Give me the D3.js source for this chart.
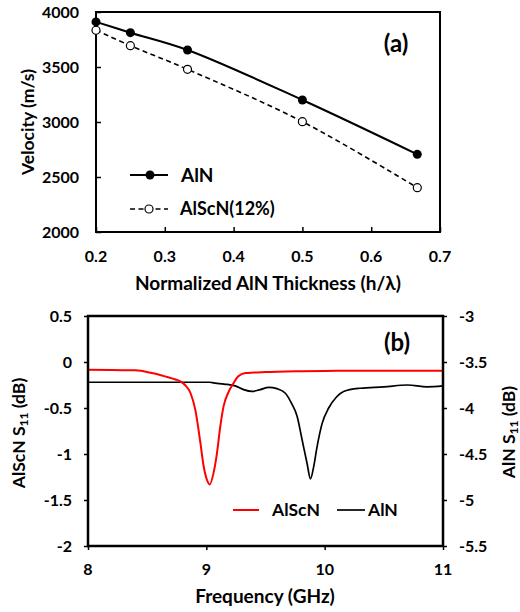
<!DOCTYPE html>
<html>
<head>
<meta charset="utf-8">
<script src="https://cdn.jsdelivr.net/npm/d3@7"></script>
<style>
  body { margin: 0; background: #fff; }
  text { font-family: Lato, "Open Sans", sans-serif; font-weight: 700; fill: #000; }
</style>
</head>
<body>
<div id="chart"></div>
<script>
// ---- panel (a) data ----
var thickness = [0.2, 0.25, 0.333, 0.5, 0.667];
var velAlN = [3910, 3812, 3655, 3200, 2706];
var velAlScN = [3834, 3694, 3479, 3003, 2403];
var xTicksA = [0.2, 0.3, 0.4, 0.5, 0.6, 0.7];
var yTicksA = [2000, 2500, 3000, 3500, 4000];

// ---- panel (b) data ----
var freqAlScN = [8.0, 8.2, 8.4, 8.54, 8.65, 8.74, 8.78, 8.82, 8.866, 8.907, 8.95, 8.977, 9.005, 9.028,
  9.062, 9.09, 9.118, 9.146, 9.19, 9.23, 9.27, 9.33, 9.4, 9.5, 9.6, 9.8, 10.0, 10.3, 10.6, 11.0];
var s11AlScN = [-0.084, -0.088, -0.09, -0.12, -0.156, -0.19, -0.21, -0.25, -0.337, -0.52, -0.88, -1.13, -1.28, -1.332,
  -1.2, -0.99, -0.70, -0.48, -0.32, -0.23, -0.156, -0.12, -0.115, -0.11, -0.105, -0.1, -0.097, -0.095, -0.095, -0.095];
var freqAlN = [8.0, 8.5, 9.03, 9.05, 9.15, 9.245, 9.315, 9.386, 9.456, 9.527, 9.597, 9.668, 9.72, 9.767,
  9.81, 9.851, 9.88, 9.907, 9.936, 9.978, 10.034, 10.10, 10.16, 10.30, 10.50, 10.70, 10.865, 11.0];
var s11AlN = [-3.72, -3.72, -3.72, -3.725, -3.74, -3.76, -3.80, -3.82, -3.80, -3.775, -3.79, -3.84, -3.95, -4.09,
  -4.35, -4.60, -4.77, -4.64, -4.42, -4.17, -4.0, -3.88, -3.82, -3.785, -3.77, -3.75, -3.77, -3.76];
var xTicksB = [8, 9, 10, 11];
var yTicksBLeft = [-2, -1.5, -1, -0.5, 0, 0.5];
var yTicksBRight = [-5.5, -5, -4.5, -4, -3.5, -3];

var W = 520, H = 612;
var svg = d3.select("#chart").append("svg")
  .attr("width", W).attr("height", H);

// ================= panel (a) =================
var ax = d3.scaleLinear().domain([0.2, 0.7]).range([96, 440]);
var ay = d3.scaleLinear().domain([2000, 4000]).range([232, 12]);

var gA = svg.append("g");

// ticks (inside)
gA.append("g")
  .attr("transform", "translate(96,0)")
  .call(d3.axisRight(ay).tickValues(yTicksA).tickSize(5).tickFormat(""))
  .call(function (g) { g.select(".domain").remove(); g.selectAll("line").attr("stroke-width", 1.5); });
gA.append("g")
  .attr("transform", "translate(0,232)")
  .call(d3.axisTop(ax).tickValues(xTicksA).tickSize(5).tickFormat(""))
  .call(function (g) { g.select(".domain").remove(); g.selectAll("line").attr("stroke-width", 1.5); });

// tick labels
gA.selectAll(".ylab").data(yTicksA).enter().append("text")
  .attr("x", 79).attr("y", function (d) { return ay(d); })
  .attr("dy", "0.36em").attr("text-anchor", "end")
  .style("font-size", "16px").text(function (d) { return d; });
gA.selectAll(".xlab").data(xTicksA).enter().append("text")
  .attr("x", function (d) { return ax(d); }).attr("y", 262)
  .attr("text-anchor", "middle")
  .style("font-size", "16px").text(function (d) { return d.toFixed(1); });

// frame
gA.append("rect").attr("x", 96).attr("y", 12).attr("width", 344).attr("height", 220)
  .attr("fill", "none").attr("stroke", "#000").attr("stroke-width", 2);

var dataAlN = thickness.map(function (t, i) { return [t, velAlN[i]]; });
var dataAlScN = thickness.map(function (t, i) { return [t, velAlScN[i]]; });
var lineA = d3.line()
  .x(function (d) { return ax(d[0]); })
  .y(function (d) { return ay(d[1]); })
  .curve(d3.curveCatmullRom.alpha(0.5));

gA.append("path").attr("d", lineA(dataAlScN))
  .attr("fill", "none").attr("stroke", "#000").attr("stroke-width", 1.6)
  .attr("stroke-dasharray", "5,3.5");
gA.append("path").attr("d", lineA(dataAlN))
  .attr("fill", "none").attr("stroke", "#000").attr("stroke-width", 2);

gA.selectAll(".ptB").data(dataAlScN).enter().append("circle")
  .attr("cx", function (d) { return ax(d[0]); }).attr("cy", function (d) { return ay(d[1]); })
  .attr("r", 4).attr("fill", "#fff").attr("stroke", "#000").attr("stroke-width", 1.2);
gA.selectAll(".ptA").data(dataAlN).enter().append("circle")
  .attr("cx", function (d) { return ax(d[0]); }).attr("cy", function (d) { return ay(d[1]); })
  .attr("r", 4.5).attr("fill", "#000");

// legend (a)
gA.append("line").attr("x1", 130).attr("x2", 168).attr("y1", 175).attr("y2", 175)
  .attr("stroke", "#000").attr("stroke-width", 2);
gA.append("circle").attr("cx", 150).attr("cy", 175).attr("r", 4.5).attr("fill", "#000");
gA.append("text").attr("x", 181).attr("y", 175).attr("dy", "0.36em")
  .style("font-size", "19px").text("AlN");
gA.append("line").attr("x1", 130).attr("x2", 168).attr("y1", 209).attr("y2", 209)
  .attr("stroke", "#000").attr("stroke-width", 1.6).attr("stroke-dasharray", "5,3.5");
gA.append("circle").attr("cx", 149).attr("cy", 209).attr("r", 4)
  .attr("fill", "#fff").attr("stroke", "#000").attr("stroke-width", 1.2);
gA.append("text").attr("x", 180).attr("y", 209).attr("dy", "0.36em")
  .style("font-size", "18px").text("AlScN(12%)");

gA.append("text").attr("x", 396).attr("y", 43).attr("dy", "0.36em").attr("text-anchor", "middle")
  .style("font-size", "24px").text("(a)");

// axis titles
gA.append("text").attr("x", 268).attr("y", 290).attr("text-anchor", "middle")
  .style("font-size", "19px").text("Normalized AlN Thickness (h/λ)");
gA.append("text").attr("transform", "translate(28,122) rotate(-90)")
  .attr("dy", "0.36em").attr("text-anchor", "middle")
  .style("font-size", "17.5px").text("Velocity (m/s)");

// ================= panel (b) =================
var bx = d3.scaleLinear().domain([8, 11]).range([88, 443]);
var byL = d3.scaleLinear().domain([-2, 0.5]).range([546, 316]);
var byR = d3.scaleLinear().domain([-5.5, -3]).range([546, 316]);

var gB = svg.append("g");

gB.append("g").attr("transform", "translate(88,0)")
  .call(d3.axisLeft(byL).tickValues(yTicksBLeft).tickSize(4).tickFormat(""))
  .call(function (g) { g.select(".domain").remove(); g.selectAll("line").attr("stroke-width", 1.5); });
gB.append("g").attr("transform", "translate(443,0)")
  .call(d3.axisRight(byR).tickValues(yTicksBRight).tickSize(4).tickFormat(""))
  .call(function (g) { g.select(".domain").remove(); g.selectAll("line").attr("stroke-width", 1.5); });
gB.append("g").attr("transform", "translate(0,546)")
  .call(d3.axisBottom(bx).tickValues(xTicksB).tickSize(4).tickFormat(""))
  .call(function (g) { g.select(".domain").remove(); g.selectAll("line").attr("stroke-width", 1.5); });

gB.selectAll(".ylL").data(yTicksBLeft).enter().append("text")
  .attr("x", 72).attr("y", function (d) { return byL(d); })
  .attr("dy", "0.36em").attr("text-anchor", "end")
  .style("font-size", "16px").text(function (d) { return d; });
gB.selectAll(".ylR").data(yTicksBRight).enter().append("text")
  .attr("x", 459).attr("y", function (d) { return byR(d); })
  .attr("dy", "0.36em").attr("text-anchor", "start")
  .style("font-size", "16px").text(function (d) { return d; });
gB.selectAll(".xl").data(xTicksB).enter().append("text")
  .attr("x", function (d) { return bx(d); }).attr("y", 575)
  .attr("text-anchor", "middle")
  .style("font-size", "16px").text(function (d) { return d; });

var lineL = d3.line()
  .x(function (d) { return bx(d[0]); })
  .y(function (d) { return byL(d[1]); })
  .curve(d3.curveMonotoneX);
var lineR = d3.line()
  .x(function (d) { return bx(d[0]); })
  .y(function (d) { return byR(d[1]); })
  .curve(d3.curveMonotoneX);

gB.append("path").attr("d", lineR(freqAlN.map(function (f, i) { return [f, s11AlN[i]]; })))
  .attr("fill", "none").attr("stroke", "#000").attr("stroke-width", 1.7);
gB.append("path").attr("d", lineL(freqAlScN.map(function (f, i) { return [f, s11AlScN[i]]; })))
  .attr("fill", "none").attr("stroke", "#ff0000").attr("stroke-width", 2);

gB.append("rect").attr("x", 88).attr("y", 316).attr("width", 355).attr("height", 230)
  .attr("fill", "none").attr("stroke", "#000").attr("stroke-width", 2.5);

// legend (b)
gB.append("line").attr("x1", 233).attr("x2", 259).attr("y1", 510).attr("y2", 510)
  .attr("stroke", "#ff0000").attr("stroke-width", 2);
gB.append("text").attr("x", 272).attr("y", 510).attr("dy", "0.36em")
  .style("font-size", "17.5px").text("AlScN");
gB.append("line").attr("x1", 337).attr("x2", 365).attr("y1", 510).attr("y2", 510)
  .attr("stroke", "#000").attr("stroke-width", 1.7);
gB.append("text").attr("x", 368).attr("y", 510).attr("dy", "0.36em")
  .style("font-size", "17.5px").text("AlN");

gB.append("text").attr("x", 397).attr("y", 342).attr("dy", "0.36em").attr("text-anchor", "middle")
  .style("font-size", "24px").text("(b)");

gB.append("text").attr("x", 265).attr("y", 603).attr("text-anchor", "middle")
  .style("font-size", "19px").text("Frequency (GHz)");

var tl = gB.append("text").attr("transform", "translate(19,433) rotate(-90)")
  .attr("dy", "0.36em").attr("text-anchor", "middle").style("font-size", "17.5px");
tl.append("tspan").text("AlScN S");
tl.append("tspan").attr("dy", "0.25em").style("font-size", "12px").text("11");
tl.append("tspan").attr("dy", "-0.2em").text(" (dB)");

var tr = gB.append("text").attr("transform", "translate(509,432) rotate(-90)")
  .attr("dy", "0.36em").attr("text-anchor", "middle").style("font-size", "17.5px");
tr.append("tspan").text("AlN S");
tr.append("tspan").attr("dy", "0.25em").style("font-size", "12px").text("11");
tr.append("tspan").attr("dy", "-0.2em").text(" (dB)");
</script>
</body>
</html>
